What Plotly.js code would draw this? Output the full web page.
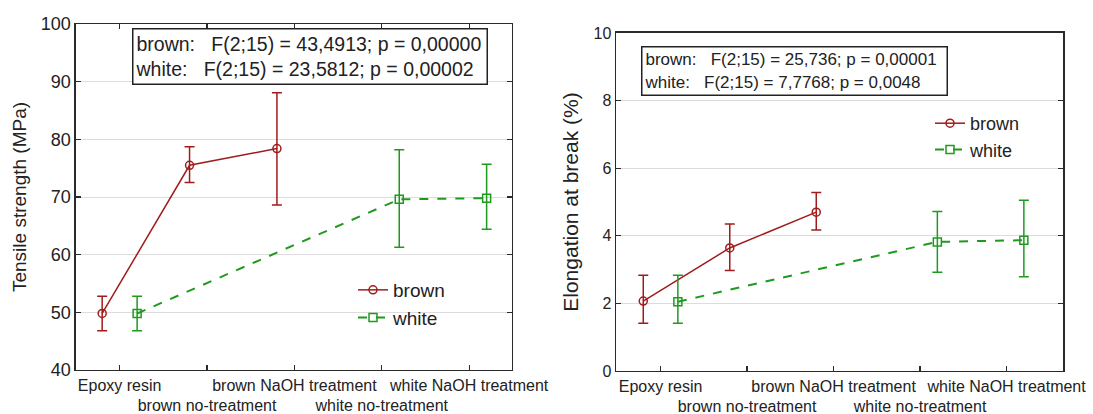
<!DOCTYPE html>
<html>
<head>
<meta charset="utf-8">
<script src="https://cdn.plot.ly/plotly-3.0.1.min.js"></script>
<style>html,body{margin:0;padding:0;background:#fff;}#chart{width:1093px;height:414px;}</style>
</head>
<body>
<div id="chart"></div>
<script>
// ---- data ----
const categories = ["Epoxy resin", "brown no-treatment", "brown NaOH treatment", "white no-treatment", "white NaOH treatment"];
const brownCats = ["Epoxy resin", "brown no-treatment", "brown NaOH treatment"];
const whiteCats = ["Epoxy resin", "white no-treatment", "white NaOH treatment"];

const tensileBrownMean  = [49.8, 75.5, 78.4];
const tensileBrownUpper = [52.8, 78.7, 88.1];
const tensileBrownLower = [46.8, 72.5, 68.6];
const tensileWhiteMean  = [49.8, 69.6, 69.8];
const tensileWhiteUpper = [52.8, 78.2, 75.7];
const tensileWhiteLower = [46.8, 61.3, 64.4];

const elongBrownMean  = [2.07, 3.64, 4.70];
const elongBrownUpper = [2.83, 4.35, 5.28];
const elongBrownLower = [1.41, 2.97, 4.17];
const elongWhiteMean  = [2.05, 3.82, 3.87];
const elongWhiteUpper = [2.83, 4.72, 5.05];
const elongWhiteLower = [1.41, 2.92, 2.79];

const statsTensile = ["brown:\u00a0\u00a0\u00a0F(2;15) = 43,4913; p = 0,00000", "white:\u00a0\u00a0\u00a0F(2;15) = 23,5812; p = 0,00002"];
const statsElong   = ["brown:\u00a0\u00a0\u00a0F(2;15) = 25,736; p = 0,00001", "white:\u00a0\u00a0\u00a0F(2;15) = 7,7768; p = 0,0048"];
const seriesNames = ["brown", "white"];

// ---- styling ----
const BROWN = "#a01c1c", GREEN = "#1f9a1f";
const FONT = "Liberation Sans, Arial, sans-serif";
const SHIFT = 0.2;
const xPos = (cats, d) => cats.map(c => categories.indexOf(c) + d);
const diff = (a, b) => a.map((v, i) => Math.abs(v - b[i]));

function series(cats, mean, upper, lower, name, color, dash, symbol, d, xa, ya, leg, show) {
  return {
    type: "scatter", mode: "lines+markers", name: name,
    x: xPos(cats, d), y: mean, xaxis: xa, yaxis: ya, legend: leg, showlegend: show,
    line: {color: color, width: dash === "solid" ? 1.5 : 2, dash: dash},
    marker: {symbol: symbol, size: 8, color: color, line: {width: 1.5, color: color}},
    error_y: {type: "data", symmetric: false, array: diff(upper, mean), arrayminus: diff(mean, lower),
              color: color, thickness: 1.5, width: 5},
    hoverinfo: "x+y"
  };
}

const traces = [
  series(brownCats, tensileBrownMean, tensileBrownUpper, tensileBrownLower, seriesNames[0], BROWN, "solid", "circle-open", -SHIFT, "x", "y", "legend", true),
  series(whiteCats, tensileWhiteMean, tensileWhiteUpper, tensileWhiteLower, seriesNames[1], GREEN, "dash", "square-open", SHIFT, "x", "y", "legend", true),
  series(brownCats, elongBrownMean, elongBrownUpper, elongBrownLower, seriesNames[0], BROWN, "solid", "circle-open", -SHIFT, "x2", "y2", "legend2", true),
  series(whiteCats, elongWhiteMean, elongWhiteUpper, elongWhiteLower, seriesNames[1], GREEN, "dash", "square-open", SHIFT, "x2", "y2", "legend2", true)
];

const tickText = categories.map((c, i) => (i % 2 ? "<br>" + c : c));
const frame = {showline: true, linecolor: "#2a2a2a", linewidth: 1.5, zeroline: false,
               ticks: "inside", ticklen: 5, tickcolor: "#2a2a2a", tickwidth: 1.2};

const layout = {
  width: 1093, height: 414,
  margin: {l: 0, r: 0, t: 0, b: 0},
  paper_bgcolor: "#fff", plot_bgcolor: "#fff",
  font: {family: FONT, color: "#222"},
  showlegend: true,
  xaxis: Object.assign({}, frame, {domain: [0.0695, 0.4684], range: [-0.5, 4.49], mirror: "ticks",
    tickmode: "array", tickvals: categories.map((c, i) => i), ticktext: tickText, tickangle: 0,
    tickfont: {size: 16}, showgrid: false, anchor: "y", automargin: false}),
  yaxis: Object.assign({}, frame, {domain: [0.1063, 0.942], range: [40, 100], dtick: 10, mirror: "ticks",
    tickfont: {size: 18}, showgrid: true, gridcolor: "#dcdcdc", gridwidth: 1, anchor: "x",
    title: {text: "Tensile strength (MPa)", font: {size: 19}, standoff: 9}}),
  xaxis2: Object.assign({}, frame, {domain: [0.5636, 0.9726], range: [-0.515, 4.653], mirror: true,
    tickmode: "array", tickvals: categories.map((c, i) => i), ticktext: tickText, tickangle: 0,
    tickfont: {size: 16}, showgrid: false, anchor: "y2", automargin: false}),
  xaxis3: {overlaying: "x2", side: "top", anchor: "y2", range: [-0.5, 4.5], showline: false, zeroline: false,
    showgrid: false, ticks: "inside", ticklen: 5, tickcolor: "#2a2a2a", tickwidth: 1.2, showticklabels: false,
    tickmode: "array", tickvals: categories.map((c, i) => i)},
  yaxis2: Object.assign({}, frame, {domain: [0.1039, 0.9203], range: [0, 10], dtick: 2, mirror: "ticks",
    tickfont: {size: 16}, showgrid: true, gridcolor: "#dcdcdc", gridwidth: 1, anchor: "x2",
    title: {text: "Elongation at break (%)", font: {size: 21}, standoff: 9}}),
  legend: {x: 353 / 1093, y: 1 - 271 / 414, xanchor: "left", yanchor: "top", bgcolor: "rgba(0,0,0,0)",
    font: {size: 19, color: "#222"}, itemwidth: 30, tracegroupgap: 0},
  legend2: {x: 930 / 1093, y: 1 - 105 / 414, xanchor: "left", yanchor: "top", bgcolor: "rgba(0,0,0,0)",
    font: {size: 18, color: "#222"}, itemwidth: 30, tracegroupgap: 0},
  annotations: [
    {xref: "paper", yref: "paper", x: 132 / 1093, y: 1 - 28 / 414, xanchor: "left", yanchor: "top",
     text: statsTensile.join("<br>"), align: "left", showarrow: false, font: {size: 19.5, color: "#222"},
     bordercolor: "#222", borderwidth: 1.5, borderpad: 2, bgcolor: "#fff", width: 349, height: 50},
    {xref: "paper", yref: "paper", x: 641 / 1093, y: 1 - 46 / 414, xanchor: "left", yanchor: "top",
     text: statsElong.join("<br>"), align: "left", showarrow: false, font: {size: 17, color: "#222"},
     bordercolor: "#222", borderwidth: 1.5, borderpad: 2, bgcolor: "#fff", width: 300, height: 43}
  ]
};

Plotly.newPlot("chart", traces, layout, {displayModeBar: false, staticPlot: true});
</script>
</body>
</html>
